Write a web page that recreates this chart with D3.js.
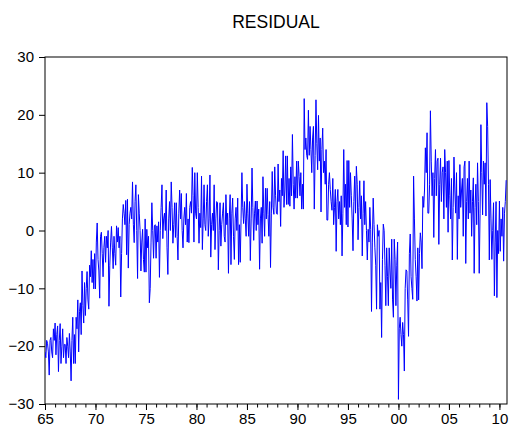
<!DOCTYPE html>
<html>
<head>
<meta charset="utf-8">
<script src="https://cdn.jsdelivr.net/npm/d3@7"></script>
<style>
  body { margin: 0; background: #fff; }
  text { font-family: "Liberation Sans", Arial, sans-serif; }
</style>
</head>
<body>
<div id="chart"></div>
<script>
// monthly residuals, 1965:01 .. 2010:09 (one row per year)
var residual = [
  -21, -22, -19, -19.5, -21, -25, -19, -18.5, -21, -22, -17, -19,
  -16, -21.5, -18, -16.5, -24.4, -19, -16.1, -23, -20, -17, -22, -19.7,
  -19.7, -23, -18.5, -20, -22, -17.8, -21, -26, -19, -15, -23, -18,
  -23, -15, -17, -12, -21, -14, -12.5, -18, -7, -13, -16, -9,
  -14.7, -10, -7.1, -12, -13.6, -6, -8, -3.5, -9, -5, -10.1, -4,
  -10.1, -2, 1.3, -5, -7, -11.7, -1, -0.3, -4, -8, -2.9, -1,
  -5.5, -1, -3, 0, -13.1, -6, -2, 0.7, -3, -6.6, -1, -4,
  -6, 0.8, -2, 0.5, -3, -1, -11.5, -4, 2, 4.5, 3, 1,
  5.2, -4.2, 5.4, -6.5, 1, 3, 4, 2, 8.4, 1, -2.1, 5,
  7.9, 0, -8.3, 6.2, 3, 0, -7, -2, 0.2, -5, -7.2, 2,
  -7.2, 0.2, -3, -1, -12.5, -10, -2, 4.8, 0, -4.8, 0.8, 1,
  -4.8, 0.8, -2, 1.5, -8.1, 0, 4, 7.9, -1.4, 2, 3, 0,
  7, -3, -7.6, 2, 5, 0, 8.4, 4, -2.2, 1, 4.8, -1.2,
  4.8, -1, -5.1, 3, 7, 2, 6.4, 0, -3, 2, 4, 1,
  6.4, -2, 2, -2.1, 4, 5, 3, 10.9, 6, -2, 10, 3,
  2, 10, 4, -2.2, 3, 0.5, 9.4, -3.3, 2, 7.9, 1, 0,
  5, 7.9, -1, 2, 9.6, -4.6, 1, 3, 0, 7.9, -3.3, 2,
  5, 4.8, -6.8, 0, 4.8, -2.7, 1, 3, 4.8, -1, -2, 6.2,
  1, 3, -7.4, 2, 6.2, -5.9, 3, 5.6, -1, -5, 2, 4,
  0, 5.6, -5.9, 1, -5.5, 2, 10, 4, 1.2, 5, 2, -1,
  8, 3, -1, 5, -5.2, 2, 10.8, 4, -1.7, 3, 5.1, 0,
  5.1, 1, 3.7, -6.7, 2, 4, -2.2, 9.3, 3, -1, 7.3, 2,
  7.3, 2.8, -1, 5, -6.4, 3, 10.2, 4, 2.8, 11, 6, 3,
  2.8, 11.5, 5, 7, 0.7, 9, 6, 13.8, 4, 7, 12.9, 4.5,
  12.9, 4.5, 9, 4.2, 11, 6, 16.6, 8, 3.7, 9.3, 5.6, 12,
  5.6, 12, 9.3, 6, 10, 3.7, 8, 3.7, 22.8, 14, 16, 13,
  12.3, 20.8, 13, 18, 14, 10, 16, 18, 3.7, 13, 22.6, 15,
  10.5, 19.9, 12, 16, 3.2, 14, 17.7, 10, 12, 8, 14, 1.8,
  1.8, 8, 10, 7.1, 5, 3.5, 9, 1, 4, 7.1, -3.6, 5,
  7.1, 2, 5, 1, 6, -4.4, 3, 14, 4, 8, 1, 12.1,
  0.6, 12.1, 4, 10, 6, 2, -3.5, 5, 9.4, 3, 11.1, 8,
  -1.6, 4, 8.6, 2, 6, -4.4, 3, 8.6, 1, 5, 0, -5.1,
  0.2, -2, 4, 0.2, -14, -2, 5.6, 1, -3, -6, -13.6, 1,
  -1, 0, -13.6, -9, -18.5, -5, 1.1, 0, -6, -13, -3, -8,
  -13, -3, -7, -10, -1.5, -12, -15, -1.5, -5, -13, -6, -2,
  -29.2, -17, -15, -18, -20, -15.9, -18, -24.3, -10, -6.8, -7, -12,
  -18.3, -4, -0.6, -8, -10, -11.9, 9.4, 2, -5, -8, -12.2, -3,
  -12, -4, -0.4, -2, -6.6, 5.9, 4, 7, 14.3, 10, 16.9, 3,
  3, 8, 20.7, 12, 6, 10, -1.2, 9, 14, 6, 12, 12.5,
  -2.4, 8, 12.5, 5, 10, 11, 2, 14, 10, 4, 12, -0.3,
  12.1, 6, 2, 9, -5.1, 4, 12.7, 7, 3, 10, -5, 6,
  2, 11.4, 4, 7, 9, -1, 11, 12, -5.7, 5, 9, 2,
  12, 3, 7, -1, 5, 9.1, -7.4, 4, 8, 1, 11.7, 5,
  -7.4, 3, 18.3, 10, 2.7, 12, 8, 11.7, 2.5, 22.1, 18, 8,
  -5.1, 8.8, 2, -5, 0, 4.8, -11.3, -2, 5, -11.6, 0, -4,
  5.1, -3.6, 2, -1, 4, -5.3, 3, 5, 8.7
];
var startYear = 1965;
var yTicks = [-30, -20, -10, 0, 10, 20, 30];
var xMajor = [1965, 1970, 1975, 1980, 1985, 1990, 1995, 2000, 2005, 2010];
var xMinor = d3.range(1965, 2011);

var data = residual.map(function(v, i) {
  return { t: startYear + i / 12, v: v };
});

var svg_width = 510, svg_height = 430;
var margin = { top: 57, right: 3, bottom: 26, left: 45 };
var width = svg_width - margin.left - margin.right;
var height = svg_height - margin.top - margin.bottom;

var svg = d3.select("#chart").append("svg")
  .attr("width", svg_width)
  .attr("height", svg_height);

svg.append("text")
  .attr("x", margin.left + width / 2)
  .attr("y", 27.5)
  .attr("text-anchor", "middle")
  .style("font-size", "17.5px")
  .text("RESIDUAL");

var x_scale = d3.scaleLinear().domain([1965, 2010.75]).range([0, width]);
var y_scale = d3.scaleLinear().domain([-30, 30]).range([height, 0]);

var g = svg.append("g")
  .attr("transform", `translate(${margin.left}, ${margin.top})`);

g.append("clipPath").attr("id", "clip")
  .append("rect").attr("width", width).attr("height", height);

// y axis
var y_axis = d3.axisLeft(y_scale).tickValues(yTicks).tickSize(6).tickPadding(5);
var gy = g.append("g").call(y_axis);
gy.select(".domain").remove();
gy.selectAll("text").style("font-size", "15px").attr("fill", "#000");

// x axis: minor yearly ticks + labelled 5-year ticks
var gxm = g.append("g").attr("transform", `translate(0, ${height})`)
  .call(d3.axisBottom(x_scale).tickValues(xMinor).tickSize(3.5).tickFormat(""));
gxm.select(".domain").remove();

var x_axis = d3.axisBottom(x_scale).tickValues(xMajor).tickSize(6).tickPadding(3)
  .tickFormat(function(d) { return d3.format("02d")(d % 100); });
var gx = g.append("g").attr("transform", `translate(0, ${height})`).call(x_axis);
gx.select(".domain").remove();
gx.selectAll("text").style("font-size", "15px").attr("fill", "#000");

// frame
g.append("rect")
  .attr("width", width)
  .attr("height", height)
  .attr("fill", "none")
  .attr("stroke", "#000")
  .attr("stroke-width", 1);

var line = d3.line()
  .x(function(d) { return x_scale(d.t); })
  .y(function(d) { return y_scale(d.v); });

g.append("path")
  .datum(data)
  .attr("clip-path", "url(#clip)")
  .attr("fill", "none")
  .attr("stroke", "#0000ff")
  .attr("stroke-width", 1)
  .attr("stroke-linejoin", "round")
  .attr("d", line);
</script>
</body>
</html>
